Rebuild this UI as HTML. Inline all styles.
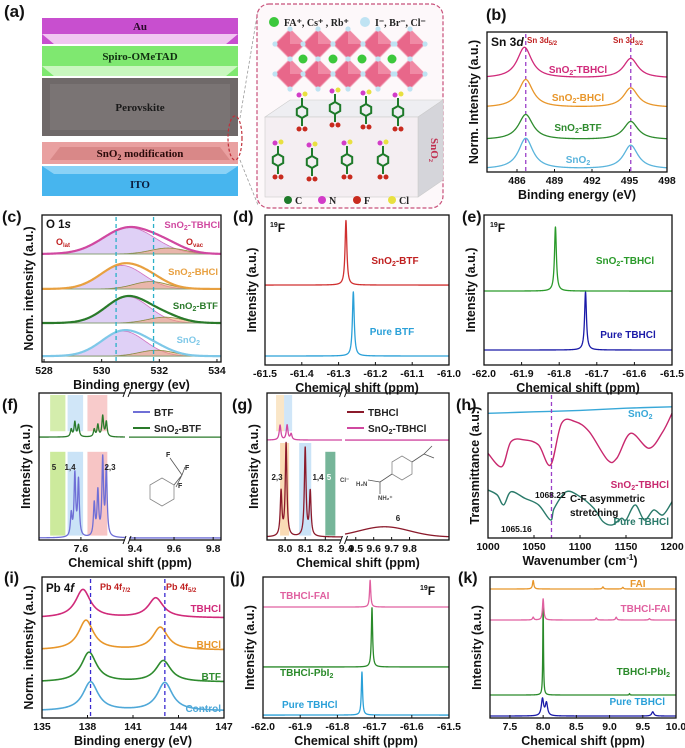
<!DOCTYPE html>
<html><head><meta charset="utf-8">
<style>
html,body{margin:0;padding:0;background:#fff;}
svg{display:block;font-family:"Liberation Sans",sans-serif;}
</style></head>
<body>
<svg id="fig" width="685" height="748" viewBox="0 0 685 748" xmlns="http://www.w3.org/2000/svg">
<rect x="0" y="0" width="685" height="748" fill="#fff"/>
<g font-family="Liberation Serif, serif" font-weight="bold">
  <text x="4" y="17" font-family="Liberation Sans, sans-serif" font-size="17" font-weight="bold" fill="#111">(a)</text>
  <g>
    <rect x="42" y="18" width="196" height="16" fill="#c84fcf"/>
    <polygon points="42,34 238,34 226,44 54,44" fill="#f1c6f1"/>
    <polygon points="42,34 54,44 42,44" fill="#c84fcf"/><polygon points="238,34 226,44 238,44" fill="#c84fcf"/>
    <text x="140" y="30" font-size="11" text-anchor="middle" fill="#2a0a2a">Au</text>
  </g>
  <g>
    <rect x="42" y="46" width="196" height="20" fill="#7fe870"/>
    <polygon points="42,66 238,66 226,76 54,76" fill="#c9f7bf"/>
    <polygon points="42,66 54,76 42,76" fill="#7fe870"/><polygon points="238,66 226,76 238,76" fill="#7fe870"/>
    <text x="140" y="60" font-size="11" text-anchor="middle" fill="#103010">Spiro-OMeTAD</text>
  </g>
  <g>
    <rect x="42" y="78" width="196" height="58" fill="#6f6969"/>
    <polygon points="50,84 230,84 230,130 50,130" fill="#7a7474"/>
    <text x="140" y="111" font-size="11" text-anchor="middle" fill="#1a1a1a">Perovskite</text>
  </g>
  <g>
    <rect x="42" y="142" width="196" height="22" fill="#e9a0a0"/>
    <polygon points="60,147 220,147 230,160 50,160" fill="#d98888"/>
    <text x="140" y="157" font-size="11" text-anchor="middle" fill="#2a0a0a">SnO<tspan font-size="8" dy="3">2</tspan><tspan dy="-3"> modification</tspan></text>
  </g>
  <g>
    <polygon points="42,166 238,166 238,196 42,196" fill="#47b5ee"/>
    <polygon points="42,166 238,166 226,174 54,174" fill="#8ad2f6"/>
    <text x="140" y="188" font-size="11" text-anchor="middle" fill="#0a1a3a">ITO</text>
  </g>
  <ellipse cx="235" cy="138" rx="7" ry="22" fill="none" stroke="#c0303a" stroke-dasharray="3,2" stroke-width="1.2"/>
  <line x1="240" y1="118" x2="258" y2="10" stroke="#999" stroke-dasharray="3,2" stroke-width="0.8"/>
  <line x1="240" y1="160" x2="258" y2="205" stroke="#999" stroke-dasharray="3,2" stroke-width="0.8"/>
  <rect x="257" y="4" width="186" height="204" rx="12" fill="#fdf8fa" stroke="#c8507a" stroke-dasharray="4,2" stroke-width="1.2"/>
  <circle cx="274" cy="22" r="5" fill="#3cc83c"/>
  <text x="284" y="26" font-size="10" fill="#222">FA⁺, Cs⁺ , Rb⁺</text>
  <circle cx="365" cy="22" r="5" fill="#bfe3f3"/>
  <text x="375" y="26" font-size="10" fill="#222">I⁻, Br⁻, Cl⁻</text>
  <g id="octa"></g>
  <g>
    <polygon points="265,117 290,100 443,100 418,117" fill="#eeeef2" stroke="#ccc" stroke-width="0.6"/>
    <polygon points="418,117 443,100 443,180 418,197" fill="#d5d5da" stroke="#ccc" stroke-width="0.6"/>
    <rect x="265" y="117" width="153" height="80" fill="#f4eef2" stroke="#ccc" stroke-width="0.6"/>
    <text x="431" y="150" font-size="11" fill="#c03050" transform="rotate(90 431 150)" text-anchor="middle">SnO₂</text>
  </g>
  <g id="mols"></g>
  <circle cx="288" cy="200" r="4" fill="#1e7a2a"/><text x="295" y="204" font-size="10" fill="#222">C</text>
  <circle cx="322" cy="200" r="4" fill="#d23cc8"/><text x="329" y="204" font-size="10" fill="#222">N</text>
  <circle cx="357" cy="200" r="4" fill="#c82a1e"/><text x="364" y="204" font-size="10" fill="#222">F</text>
  <circle cx="392" cy="200" r="4" fill="#e8e040"/><text x="399" y="204" font-size="10" fill="#222">Cl</text>
</g>
</svg>
<script>
// ===== data arrays =====
const bCenters=[486.7,495.1];
const bTbhclCenters=[486.6,495.1];
const bSnO2Amp=[22,17]; const bBtfAmp=[18,13]; const bBhclAmp=[20,14]; const bTbhclAmp=[22,14];
const bBases=[2,23,46,67];
const bTicks=[486,489,492,495,498];
const cBases=[4,26.5,49.7,73.5];
const cMainAmp=[17,18,16,18];
const cMainCenter=[530.75,530.9,530.7,530.95];
const cVacAmp=[4,4,5,4];
const cVacCenter=[531.9,532.2,531.7,532.3];
const cTicks=[528,530,532,534];
const dCenters=[-61.26,-61.28];
const dBases=[6,53.3];
const dAmps=[42.7,43];
const dTicks=[-61.5,-61.4,-61.3,-61.2,-61.1,-61.0];
const eCenters=[-61.73,-61.81];
const eBases=[10,49.3];
const eAmps=[38.7,42.7];
const eTicks=[-62.0,-61.9,-61.8,-61.7,-61.6,-61.5];
const fPeaks=[7.56,7.575,7.59,7.655,7.67,7.69,7.705];
const fBtfAmps=[15,42,38,22,30,52,45];
const fSnAmps=[5,10,8,5,8,14,10];
const fBases=[1.4,70];
const fTicks=[7.6,9.4,9.6,9.8];
const gTbPeaks=[7.98,8.005,8.1,8.125];
const gTbAmps=[30,63,60,30];
const gSnPeaks=[7.975,8.01,8.03];
const gSnAmps=[10,10,4];
const gHump=[9.66,7];
const gBases=[2,68];
const gTicks=[8.0,8.1,8.2,9.5,9.6,9.7,9.8];
const hWave=[1000,1015,1025,1040,1055,1068,1080,1095,1110,1130,1140,1155,1175,1190,1200];
const hSnTbhcl=[58.4,49.2,66.4,67.6,64.1,50.3,79.1,80.2,73.3,53.8,55.0,72.2,61.9,73.3,86.0];
const hWave2=[1000,1010,1017,1025,1040,1055,1068,1072,1085,1100,1115,1125,1135,1145,1150,1160,1170,1180,1190,1200];
const hPure=[33.1,29.7,22.8,31.9,27.4,22.8,12.4,20.5,31.9,28.5,20.5,11.3,9.0,13.6,12.4,22.8,12.4,19.3,15.9,25.0];
const hWave3=[1000,1050,1100,1150,1200];
const hSnO2=[86,87,88,89.5,90.5];
const hTicks=[1000,1050,1100,1150,1200];
const iCenters=[[138.2,143.1],[138.1,143.0],[137.9,142.8],[137.7,142.5]];
const iAmps=[[20.5,20],[21,15],[21,16],[20,14]];
const iBases=[5,25.5,48.2,71];
const iTicks=[135,138,141,144,147];
const jCenters=[-61.734,-61.707,-61.712];
const jBases=[2.1,36.2,78.7];
const jAmps=[30.5,42,19];
const jTicks=[-62.0,-61.9,-61.8,-61.7,-61.6,-61.5];
const kPureC=[7.99,8.05,9.65]; const kPureA=[12,9,3];
const kPbC=[8.0,9.3]; const kPbA=[67,1];
const kFaiTbC=[7.85,8.0,8.8,9.1,9.6]; const kFaiTbA=[2,15,1.5,2,1];
const kFaiC=[7.85,8.9,9.2]; const kFaiA=[6,1.5,1.2];
const kBases=[1.4,16.3,69.5,91.5];
const kTicks=[7.5,8.0,8.5,9.0,9.5,10.0];

// ===== helpers =====
const NS='http://www.w3.org/2000/svg';
const svg=document.getElementById('fig');
function mk(tag,attrs,name,parent){
  const el=document.createElementNS(NS,tag);
  for(const k in attrs) el.setAttribute(k,attrs[k]);
  
  
  (parent||svg).appendChild(el);
  return el;
}
function txt(x,y,s,size,color,name,anchor,extra){
  const el=mk('text',Object.assign({x:x,y:y,'font-size':size,fill:color,'font-weight':'bold','text-anchor':anchor||'start'},extra||{}),name);
  el.innerHTML=s;
  return el;
}
function panel(o){
  o.xs=function(v){
    if(o.segs){for(const s of o.segs){ if(v>=s[2]-1e-9&&v<=s[3]+1e-9) return s[0]+(v-s[2])/(s[3]-s[2])*(s[1]-s[0]);} return null;}
    return o.x0+(v-o.xd[0])/(o.xd[1]-o.xd[0])*(o.x1-o.x0);
  };
  o.ys=function(v){return o.y1-v/100*(o.y1-o.y0);};
  return o;
}
function lor(x,cs,as,w){let s=0;for(let i=0;i<cs.length;i++){const d=(x-cs[i])/w;s+=as[i]/(1+d*d);}return s;}
function gau(x,c,a,s){const d=(x-c)/s;return a*Math.exp(-0.5*d*d);}
function fnPath(p,f,a,b,n){
  let d='';for(let i=0;i<=n;i++){const x=a+(b-a)*i/n;const X=p.xs(x),Y=p.ys(f(x));d+=(i?'L':'M')+X.toFixed(2)+','+Y.toFixed(2);}return d;
}
function curve(p,f,color,name,n,sw){
  let d='';
  const ranges=p.segs?p.segs.map(s=>[s[2],s[3]]):[p.xd];
  for(const r of ranges) d+=fnPath(p,f,r[0],r[1],n||500);
  return mk('path',{d:d,fill:'none',stroke:color,'stroke-width':sw||1.3,'stroke-linejoin':'round'},name);
}
function polyData(p,xs,vs,color,name){
  let d='';
  for(let i=0;i<xs.length;i++){
    if(i===0){d+='M'+p.xs(xs[0])+','+p.ys(vs[0]);continue;}
    const x0=xs[Math.max(0,i-2)],v0=vs[Math.max(0,i-2)],x1=xs[i-1],v1=vs[i-1],x2=xs[i],v2=vs[i],x3=xs[Math.min(xs.length-1,i+1)],v3=vs[Math.min(xs.length-1,i+1)];
    const c1x=x1+(x2-x0)/6,c1v=v1+(v2-v0)/6,c2x=x2-(x3-x1)/6,c2v=v2-(v3-v1)/6;
    d+='C'+p.xs(c1x)+','+p.ys(c1v)+' '+p.xs(c2x)+','+p.ys(c2v)+' '+p.xs(x2)+','+p.ys(v2);
  }
  return mk('path',{d:d,fill:'none',stroke:color,'stroke-width':1.4},name);
}
function axes(p,id,ticks,fmt,xlabel,ylabel,labelX,labelY){
  mk('rect',{x:p.x0,y:p.y0,width:p.x1-p.x0,height:p.y1-p.y0,fill:'none',stroke:'#111','stroke-width':1.3},'plot-frame-'+id);
  for(const t of ticks){
    const X=p.xs(t); if(X===null) continue;
    mk('line',{x1:X,y1:p.y1,x2:X,y2:p.y1-3,stroke:'#111','stroke-width':1},'x-tick-'+id);
    txt(X,p.y1+12,fmt(t),10.5,'#111','x-tick-label-'+id,'middle');
  }
  txt((p.x0+p.x1)/2,p.y1+27,xlabel,12.5,'#111','x-axis-title-'+id,'middle');
  const cy=(p.y0+p.y1)/2, lx=p.x0-9;
  txt(lx,cy,ylabel,12.5,'#111','y-axis-title-'+id,'middle',{transform:'rotate(-90 '+lx+' '+cy+')'});
  txt(labelX,labelY,'('+id+')',16,'#111','panel-label-'+id,'start');
}
function breakMarks(p,id){
  const xb=(p.segs[0][1]+p.segs[1][0])/2;
  mk('rect',{x:xb-2,y:p.y1-3,width:4,height:6,fill:'#fff'},'axis-break-gap-'+id);
  mk('rect',{x:xb-2,y:p.y0-3,width:4,height:6,fill:'#fff'},'axis-break-gap-'+id);
  for(const yy of [p.y0,p.y1]){
    mk('path',{d:'M'+(xb-4)+','+(yy+4)+'L'+(xb-1)+','+(yy-4)+'M'+(xb+1)+','+(yy+4)+'L'+(xb+4)+','+(yy-4),stroke:'#111','stroke-width':1,fill:'none'},'axis-break-mark-'+id);
  }
}
function vdash(p,v,color,name){
  const X=p.xs(v);
  mk('line',{x1:X,y1:p.y0+2,x2:X,y2:p.y1,stroke:color,'stroke-width':1.3,'stroke-dasharray':'4,3'},name);
}
function band(p,a,b,color,top,bot,name){
  const X1=p.xs(a),X2=p.xs(b);
  mk('rect',{x:X1,y:top,width:X2-X1,height:bot-top,fill:color},name);
}
const f1=v=>String(v);
const f2=v=>v.toFixed(1);

// ===== (a) decorations =====
(function(){
  const g=document.getElementById('octa');
  const cx=[290,318,348,378,410], cy=[44,74];
  for(const y of cy) for(const x of cx){
    mk('polygon',{points:(x)+','+(y-15)+' '+(x+15)+','+y+' '+x+','+(y+15)+' '+(x-15)+','+y,fill:'#e8678a',stroke:'#f3a4ba','stroke-width':1},'octahedron',g);
    mk('polygon',{points:(x)+','+(y-15)+' '+(x+15)+','+y+' '+x+','+y,fill:'#f08aa5'},'octahedron-face',g);
    for(const d of [[0,-15],[15,0],[0,15],[-15,0]]) mk('circle',{cx:x+d[0],cy:y+d[1],r:2.6,fill:'#bfe3f3'},'halide-ion',g);
  }
  for(const x of [303,333,362,392]) mk('circle',{cx:x,cy:59,r:4.5,fill:'#3cc83c'},'cation-sphere',g);
  const m=document.getElementById('mols');
  const pos=[[302,112],[335,108],[366,110],[398,112],[278,160],[312,162],[347,160],[383,160]];
  for(const q of pos){
    const x=q[0],y=q[1];let pts='';
    for(let k=0;k<6;k++){const a=Math.PI/3*k+Math.PI/6;pts+=(x+6*Math.cos(a)).toFixed(1)+','+(y+6*Math.sin(a)).toFixed(1)+' ';}
    mk('polygon',{points:pts,fill:'none',stroke:'#1e7a2a','stroke-width':2},'molecule-ring',m);
    mk('line',{x1:x,y1:y-6,x2:x,y2:y-14,stroke:'#1e7a2a','stroke-width':2},'molecule-bond',m);
    mk('line',{x1:x,y1:y+6,x2:x,y2:y+14,stroke:'#1e7a2a','stroke-width':2},'molecule-bond',m);
    mk('circle',{cx:x-3,cy:y-17,r:2.5,fill:'#d23cc8'},'n-atom',m);
    mk('circle',{cx:x+3,cy:y-18,r:2.5,fill:'#e8e040'},'cl-atom',m);
    mk('circle',{cx:x-3,cy:y+17,r:2.5,fill:'#c82a1e'},'f-atom',m);
    mk('circle',{cx:x+3,cy:y+17,r:2.5,fill:'#c82a1e'},'f-atom',m);
  }
})();

// ===== (b) =====
const pb=panel({x0:487,x1:667,y0:32,y1:172,xd:[483.6,498]});
vdash(pb,486.7,'#9b3fc8','guide-line-3d52');vdash(pb,495.1,'#9b3fc8','guide-line-3d32');
curve(pb,x=>bBases[0]+lor(x,bCenters,bSnO2Amp,0.7),'#5ab4dc','series-sno2-b');
curve(pb,x=>bBases[1]+lor(x,bCenters,bBtfAmp,0.7),'#2e8b2e','series-btf-b');
curve(pb,x=>bBases[2]+lor(x,bCenters,bBhclAmp,0.7),'#e8962a','series-bhcl-b');
curve(pb,x=>bBases[3]+lor(x,bTbhclCenters,bTbhclAmp,0.7),'#d02a7a','series-tbhcl-b');
axes(pb,'b',bTicks,f1,'Binding energy (eV)','Norm. Intensity (a.u.)',486,20);
txt(491,46,'Sn 3<tspan font-style="italic">d</tspan>',12,'#111','plot-title-b');
txt(527,43,'Sn 3d<tspan font-size="6" dy="2">5/2</tspan>',8,'#c02020','peak-label-3d52');
txt(613,43,'Sn 3d<tspan font-size="6" dy="2">3/2</tspan>',8,'#c02020','peak-label-3d32');
txt(578,73,'SnO<tspan font-size="7" dy="2">2</tspan><tspan dy="-2">-TBHCl</tspan>',10,'#d02a7a','legend-tbhcl-b','middle');
txt(578,101,'SnO<tspan font-size="7" dy="2">2</tspan><tspan dy="-2">-BHCl</tspan>',10,'#e8962a','legend-bhcl-b','middle');
txt(578,131,'SnO<tspan font-size="7" dy="2">2</tspan><tspan dy="-2">-BTF</tspan>',10,'#2e8b2e','legend-btf-b','middle');
txt(578,163,'SnO<tspan font-size="7" dy="2">2</tspan>',10,'#5ab4dc','legend-sno2-b','middle');

// ===== (c) =====
const pc=panel({x0:42,x1:221,y0:215,y1:362,xd:[527.93,534.14]});
const cCols=['#7ec8e8','#2a7a2a','#e8a040','#d048a0'];
const cNames=['sno2','btf','bhcl','tbhcl'];
for(let i=0;i<4;i++){
  const b=cBases[i];
  const sigM=(i===3?0.9:0.75);
  let d1=fnPath(pc,x=>b+gau(x,cMainCenter[i],cMainAmp[i],sigM),528,534,200)+'L'+pc.xs(534)+','+pc.ys(b)+'L'+pc.xs(528)+','+pc.ys(b)+'Z';
  mk('path',{d:d1,fill:'rgba(185,150,235,0.45)',stroke:'#d070c0','stroke-width':0.8},'component-olat-'+cNames[i]);
  let d2=fnPath(pc,x=>b+gau(x,cVacCenter[i],cVacAmp[i],0.6),528,534,200)+'L'+pc.xs(534)+','+pc.ys(b)+'L'+pc.xs(528)+','+pc.ys(b)+'Z';
  mk('path',{d:d2,fill:'rgba(240,160,110,0.55)',stroke:'#8a8a40','stroke-width':0.8},'component-ovac-'+cNames[i]);
  mk('line',{x1:pc.x0,y1:pc.ys(b),x2:pc.x1,y2:pc.ys(b),stroke:'#8aa07a','stroke-width':1},'baseline-'+cNames[i]);
  curve(pc,x=>b+gau(x,cMainCenter[i],cMainAmp[i],sigM)+gau(x,cVacCenter[i],cVacAmp[i],0.6),cCols[i],'series-'+cNames[i]+'-c',200,2.2);
}
vdash(pc,530.5,'#2ab0c8','guide-line-olat');vdash(pc,531.8,'#2ab0c8','guide-line-ovac');
axes(pc,'c',cTicks,f1,'Binding energy (ev)','Norm. intensity (a.u.)',2,222);
txt(46,228,'O 1<tspan font-style="italic">s</tspan>',11.5,'#111','plot-title-c');
txt(220,228,'SnO<tspan font-size="7" dy="2">2</tspan><tspan dy="-2">-TBHCl</tspan>',9.5,'#d048a0','legend-tbhcl-c','end');
txt(218,275,'SnO<tspan font-size="7" dy="2">2</tspan><tspan dy="-2">-BHCl</tspan>',9.5,'#e8a040','legend-bhcl-c','end');
txt(218,309,'SnO<tspan font-size="7" dy="2">2</tspan><tspan dy="-2">-BTF</tspan>',9.5,'#2a7a2a','legend-btf-c','end');
txt(200,343,'SnO<tspan font-size="7" dy="2">2</tspan>',9.5,'#7ec8e8','legend-sno2-c','end');
txt(56,245,'O<tspan font-size="6" dy="2">lat</tspan>',9,'#c02020','label-olat');
txt(186,245,'O<tspan font-size="6" dy="2">vac</tspan>',9,'#c02020','label-ovac');

// ===== (d) =====
const pd=panel({x0:265,x1:449,y0:215,y1:365,xd:[-61.5,-61.0]});
curve(pd,x=>dBases[0]+lor(x,[dCenters[0]],[dAmps[0]],0.003),'#2aa0d8','series-pure-btf',1500);
curve(pd,x=>dBases[1]+lor(x,[dCenters[1]],[dAmps[1]],0.003),'#d03030','series-sno2-btf',1500);
axes(pd,'d',dTicks,f2,'Chemical shift (ppm)','Intensity (a.u.)',233,222);
txt(270,232,'<tspan font-size="7" dy="-5">19</tspan><tspan dy="5">F</tspan>',12,'#111','nucleus-label-d');
txt(395,264,'SnO<tspan font-size="7" dy="2">2</tspan><tspan dy="-2">-BTF</tspan>',10,'#c02020','legend-sno2-btf-d','middle');
txt(392,335,'Pure BTF',10,'#2aa0d8','legend-pure-btf-d','middle');

// ===== (e) =====
const pe=panel({x0:484,x1:672,y0:215,y1:365,xd:[-62,-61.5]});
curve(pe,x=>eBases[0]+lor(x,[eCenters[0]],[eAmps[0]],0.003),'#1a1aa8','series-pure-tbhcl-e',1500);
curve(pe,x=>eBases[1]+lor(x,[eCenters[1]],[eAmps[1]],0.003),'#2a9a2a','series-sno2-tbhcl-e',1500);
axes(pe,'e',eTicks,f2,'Chemical shift (ppm)','Intensity (a.u.)',462,222);
txt(490,232,'<tspan font-size="7" dy="-5">19</tspan><tspan dy="5">F</tspan>',12,'#111','nucleus-label-e');
txt(625,264,'SnO<tspan font-size="7" dy="2">2</tspan><tspan dy="-2">-TBHCl</tspan>',10,'#2a9a2a','legend-sno2-tbhcl-e','middle');
txt(628,338,'Pure TBHCl',10,'#1a1aa8','legend-pure-tbhcl-e','middle');

// ===== (f) =====
const pf=panel({x0:39,x1:221,y0:393,y1:540,segs:[[39,125,7.427,7.782],[129,221,9.37,9.84]]});
band(pf,7.473,7.536,'rgba(170,220,90,0.5)',pf.y0+2,pf.ys(74),'band-5-top');
band(pf,7.545,7.609,'rgba(150,200,240,0.45)',pf.y0+2,pf.ys(74),'band-14-top');
band(pf,7.627,7.709,'rgba(240,140,140,0.45)',pf.y0+2,pf.ys(74),'band-23-top');
band(pf,7.473,7.536,'rgba(170,220,90,0.6)',pf.ys(60),pf.ys(3),'band-5');
band(pf,7.545,7.609,'rgba(150,200,240,0.5)',pf.ys(60),pf.ys(3),'band-14');
band(pf,7.627,7.709,'rgba(240,140,140,0.5)',pf.ys(60),pf.ys(3),'band-23');
curve(pf,x=>fBases[0]+lor(x,fPeaks,fBtfAmps,0.004),'#6f6fd6','series-btf-f',800);
curve(pf,x=>fBases[1]+lor(x,fPeaks,fSnAmps,0.004),'#2a7a2a','series-sno2-btf-f',800);
axes(pf,'f',fTicks,f2,'Chemical shift (ppm)','Intensity (a.u.)',2,410);
breakMarks(pf,'f');
mk('line',{x1:133,y1:412,x2:150,y2:412,stroke:'#6f6fd6','stroke-width':2},'legend-line-btf-f');
txt(154,416,'BTF',10,'#222','legend-btf-f');
mk('line',{x1:133,y1:428,x2:150,y2:428,stroke:'#2a7a2a','stroke-width':2},'legend-line-sno2-btf-f');
txt(154,432,'SnO<tspan font-size="7" dy="2">2</tspan><tspan dy="-2">-BTF</tspan>',10,'#222','legend-sno2-btf-f');
txt(54,470,'5',8,'#222','peak-label-5-f','middle');
txt(70,470,'1,4',8,'#222','peak-label-14-f','middle');
txt(110,470,'2,3',8,'#222','peak-label-23-f','middle');
txt(166,457,'F',7,'#222','struct-f');txt(185,470,'F',7,'#222','struct-f2');txt(178,488,'F',7,'#222','struct-f3');
mk('polygon',{points:'150,485 162,478 174,485 174,499 162,506 150,499',fill:'none',stroke:'#888','stroke-width':0.8},'structure-btf');
mk('path',{d:'M174,485L182,475M182,475L170,458M182,475L185,467M182,475L176,487',fill:'none',stroke:'#555','stroke-width':0.8},'structure-cf3');

// ===== (g) =====
const pg=panel({x0:267,x1:449,y0:393,y1:540,segs:[[267,342,7.91,8.283],[345,449,9.44,10.02]]});
band(pg,7.955,7.995,'rgba(245,200,130,0.45)',pg.y0+2,pg.ys(74),'band-23-top-g');
band(pg,7.995,8.035,'rgba(150,200,240,0.45)',pg.y0+2,pg.ys(74),'band-14-top-g');
band(pg,7.975,8.02,'rgba(245,190,120,0.55)',pg.ys(66),pg.ys(3),'band-23-g');
band(pg,8.07,8.13,'rgba(150,200,240,0.5)',pg.ys(66),pg.ys(3),'band-14-g');
band(pg,8.2,8.25,'rgba(60,150,110,0.7)',pg.ys(60),pg.ys(3),'band-5-g');
curve(pg,x=>gBases[0]+lor(x,gTbPeaks,gTbAmps,0.005)+gau(x,gHump[0],gHump[1],0.14),'#8b1a2b','series-tbhcl-g',900);
curve(pg,x=>gBases[1]+lor(x,gSnPeaks,gSnAmps,0.005),'#d048a0','series-sno2-tbhcl-g',900);
axes(pg,'g',gTicks,f2,'Chemical shift (ppm)','Intensity (a.u.)',232,410);
txt(346,552,'9.4',10.5,'#111','x-tick-label-g-break','middle');
breakMarks(pg,'g');
mk('line',{x1:347,y1:412,x2:364,y2:412,stroke:'#8b1a2b','stroke-width':2},'legend-line-tbhcl-g');
txt(368,416,'TBHCl',10,'#222','legend-tbhcl-g');
mk('line',{x1:347,y1:428,x2:364,y2:428,stroke:'#d048a0','stroke-width':2},'legend-line-sno2-tbhcl-g');
txt(368,432,'SnO<tspan font-size="7" dy="2">2</tspan><tspan dy="-2">-TBHCl</tspan>',10,'#222','legend-sno2-tbhcl-g');
txt(277,480,'2,3',8,'#222','peak-label-23-g','middle');
txt(318,480,'1,4',8,'#222','peak-label-14-g','middle');
txt(329,480,'5',8,'#fff','peak-label-5-g','middle');
txt(398,521,'6',8,'#222','peak-label-6-g','middle');
txt(340,482,'Cl⁻',6,'#444','struct-cl');txt(356,486,'H₂N',6,'#444','struct-nh2');txt(378,500,'NH₂⁺',6,'#444','struct-nh2p');
mk('polygon',{points:'392,462 402,456 412,462 412,474 402,480 392,474',fill:'none',stroke:'#888','stroke-width':0.8},'structure-tbhcl');
mk('path',{d:'M392,474L380,482M380,482L368,480M380,482L380,494M412,462L424,454M424,454L432,446M424,454L434,458',fill:'none',stroke:'#555','stroke-width':0.8},'structure-bonds-g');

// ===== (h) =====
const ph=panel({x0:488,x1:672,y0:393,y1:538,xd:[1000,1200]});
polyData(ph,hWave3,hSnO2,'#38a8d8','series-sno2-h');
polyData(ph,hWave,hSnTbhcl,'#c8286e','series-sno2-tbhcl-h');
polyData(ph,hWave2,hPure,'#2a7a6a','series-pure-tbhcl-h');
vdash(ph,1069,'#9b3fc8','guide-line-cf');
axes(ph,'h',hTicks,f1,'Wavenumber (cm<tspan font-size="8" dy="-5">-1</tspan><tspan dy="5">)</tspan>','Transmittance (a.u.)',456,410);
txt(628,417,'SnO<tspan font-size="7" dy="2">2</tspan>',10,'#38a8d8','legend-sno2-h');
txt(669,488,'SnO<tspan font-size="7" dy="2">2</tspan><tspan dy="-2">-TBHCl</tspan>',10,'#c8286e','legend-sno2-tbhcl-h','end');
txt(669,525,'Pure TBHCl',10,'#2a7a6a','legend-pure-tbhcl-h','end');
txt(535,498,'1068.22',8.5,'#111','annot-1068');
txt(501,532,'1065.16',8.5,'#111','annot-1065');
txt(570,502,'C-F asymmetric',10,'#111','annot-cf');
txt(570,516,'stretching',10,'#111','annot-stretch');

// ===== (i) =====
const pi=panel({x0:42,x1:224,y0:577,y1:718,xd:[135,147]});
const iCols=['#4fa8d8','#2e8b2e','#e8962a','#d02a7a'];
const iNames=['control','btf','bhcl','tbhcl'];
for(let s=0;s<4;s++) curve(pi,x=>iBases[s]+lor(x,iCenters[s],iAmps[s],0.6),iCols[s],'series-'+iNames[s]+'-i',400,1.6);
vdash(pi,138.2,'#3a2ad0','guide-line-4f72');vdash(pi,143.1,'#3a2ad0','guide-line-4f52');
axes(pi,'i',iTicks,f1,'Binding energy (eV)','Norm. intensity (a.u.)',4,583);
txt(46,592,'Pb 4<tspan font-style="italic">f</tspan>',11.5,'#111','plot-title-i');
txt(100,590,'Pb 4f<tspan font-size="6" dy="2">7/2</tspan>',9,'#c02020','peak-label-4f72');
txt(166,590,'Pb 4f<tspan font-size="6" dy="2">5/2</tspan>',9,'#c02020','peak-label-4f52');
txt(221,612,'TBHCl',10,'#d02a7a','legend-tbhcl-i','end');
txt(221,648,'BHCl',10,'#e8962a','legend-bhcl-i','end');
txt(221,680,'BTF',10,'#2e8b2e','legend-btf-i','end');
txt(221,712,'Control',10,'#4fa8d8','legend-control-i','end');

// ===== (j) =====
const pj=panel({x0:263,x1:449,y0:577,y1:718,xd:[-62,-61.5]});
const jCols=['#2aa0d8','#2a8a2a','#e060a0'];
const jNames=['pure-tbhcl','tbhcl-pbi2','tbhcl-fai'];
for(let s=0;s<3;s++) curve(pj,x=>jBases[s]+lor(x,[jCenters[s]],[jAmps[s]],0.002),jCols[s],'series-'+jNames[s]+'-j',1500);
axes(pj,'j',jTicks,f2,'Chemical shift (ppm)','Intensity (a.u.)',230,583);
txt(420,595,'<tspan font-size="7" dy="-5">19</tspan><tspan dy="5">F</tspan>',12,'#111','nucleus-label-j');
txt(280,599,'TBHCl-FAI',10,'#e060a0','legend-tbhcl-fai-j');
txt(280,676,'TBHCl-PbI<tspan font-size="7" dy="2">2</tspan>',10,'#2a8a2a','legend-tbhcl-pbi2-j');
txt(282,708,'Pure TBHCl',10,'#2aa0d8','legend-pure-tbhcl-j');

// ===== (k) =====
const pk=panel({x0:490,x1:676,y0:577,y1:718,xd:[7.2,10.0]});
curve(pk,x=>kBases[0]+lor(x,kPureC,kPureA,0.02),'#1a1aa8','series-pure-tbhcl-k',1200);
curve(pk,x=>kBases[1]+lor(x,kPbC,kPbA,0.006),'#2a8a2a','series-tbhcl-pbi2-k',1500);
curve(pk,x=>kBases[2]+lor(x,kFaiTbC,kFaiTbA,0.012),'#e060a0','series-tbhcl-fai-k',1200);
curve(pk,x=>kBases[3]+lor(x,kFaiC,kFaiA,0.012),'#e8962a','series-fai-k',1200);
axes(pk,'k',kTicks,f2,'Chemical shift (ppm)','Intensity (a.u.)',458,583);
txt(630,587,'FAI',10,'#e8962a','legend-fai-k');
txt(670,612,'TBHCl-FAI',10,'#e060a0','legend-tbhcl-fai-k','end');
txt(670,675,'TBHCl-PbI<tspan font-size="7" dy="2">2</tspan>',10,'#2a8a2a','legend-tbhcl-pbi2-k','end');
txt(665,705,'Pure TBHCl',10,'#2aa0d8','legend-pure-tbhcl-k','end');
</script>
</body></html>
